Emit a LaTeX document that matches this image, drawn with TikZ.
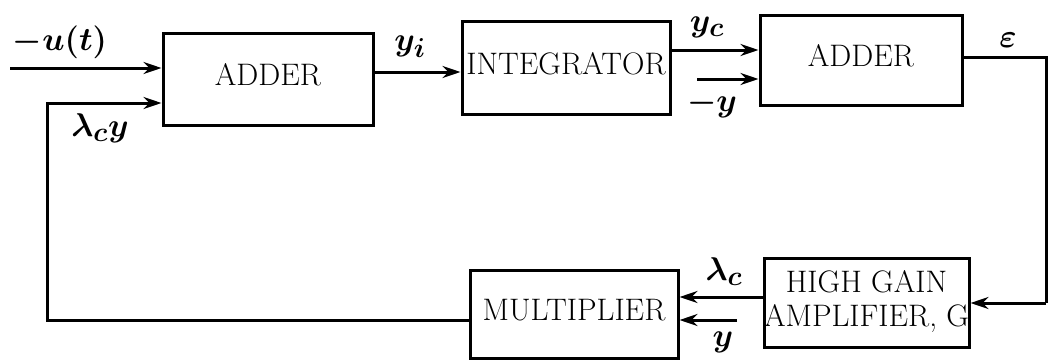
\documentclass[tikz,border=0pt]{standalone}
\usepackage{graphicx}
\usetikzlibrary{arrows.meta,calc}
\newcommand{\hw}[1]{\scalebox{1.32}{\fontsize{24.88}{27}\selectfont\boldmath$#1$}}
\newcommand{\bt}[1]{\scalebox{1.25}{\fontsize{24.88}{27}\selectfont\begin{tabular}{@{}c@{}}#1\end{tabular}}}
\begin{document}
\begin{tikzpicture}[x=1pt,y=-1pt,
  blk/.style={draw,line width=3pt,minimum width=#1,inner sep=0pt},
  conn/.style={line width=3pt},
  arr/.style={conn,-{Stealth[length=18pt,width=12pt]}},
  lbl/.style={inner sep=0pt}]
\useasboundingbox (0,0) rectangle (1049,362);
\node[blk=210pt,minimum height=92pt] (a1) at (268,79) {\bt{ADDER}};
\node[blk=208pt,minimum height=93pt] (int) at (566,68) {\bt{INTEGRATOR}};
\node[blk=202pt,minimum height=90pt] (a2) at (861,60) {\bt{ADDER}};
\node[blk=208pt,minimum height=88pt] (mul) at (574,314) {\bt{MULTIPLIER}};
\node[blk=203pt,minimum height=89pt] (hg) at (866.5,302.5) {\bt{HIGH GAIN\\AMPLIFIER, G}};
\coordinate (in) at (10,68);
\coordinate (fbl) at (47,320);
\coordinate (fbt) at (47,103);
\coordinate (my) at (697,79);
\coordinate (er) at (1046,57);
\coordinate (eb) at (1046,303);
\coordinate (yy) at (737,320);
\draw[arr] (in) -- (in -| a1.west);
\draw[arr] (mul.west |- fbl) -- (fbl) -- (fbt) -- (fbt -| a1.west);
\draw[arr] (a1.east |- 0,72) -- (int.west |- 0,72);
\draw[arr] (int.east |- 0,50) -- (a2.west |- 0,50);
\draw[arr] (my) -- (my -| a2.west);
\draw[conn] (a2.east |- er) -- (er) -- (eb);
\draw[arr] (eb) -- (eb -| hg.east);
\draw[arr] (hg.west |- 0,297) -- (mul.east |- 0,297);
\draw[arr] (yy) -- (yy -| mul.east);
\node[lbl] (lu) at (60,42) {\hw{-u(t)}};
\node[lbl] (llam) at (100,128) {\hw{\lambda_c y}};
\node[lbl] (lyi) at (410,47) {\hw{y_i}};
\node[lbl] (lyc) at (707,27) {\hw{y_c}};
\node[lbl] (lmy) at (712,104) {\hw{-y}};
\node[lbl] (leps) at (1008,40) {\hw{\varepsilon}};
\node[lbl] (llc) at (724,272) {\hw{\lambda_c}};
\node[lbl] (ly) at (723,342) {\hw{y}};
\end{tikzpicture}
\end{document}
